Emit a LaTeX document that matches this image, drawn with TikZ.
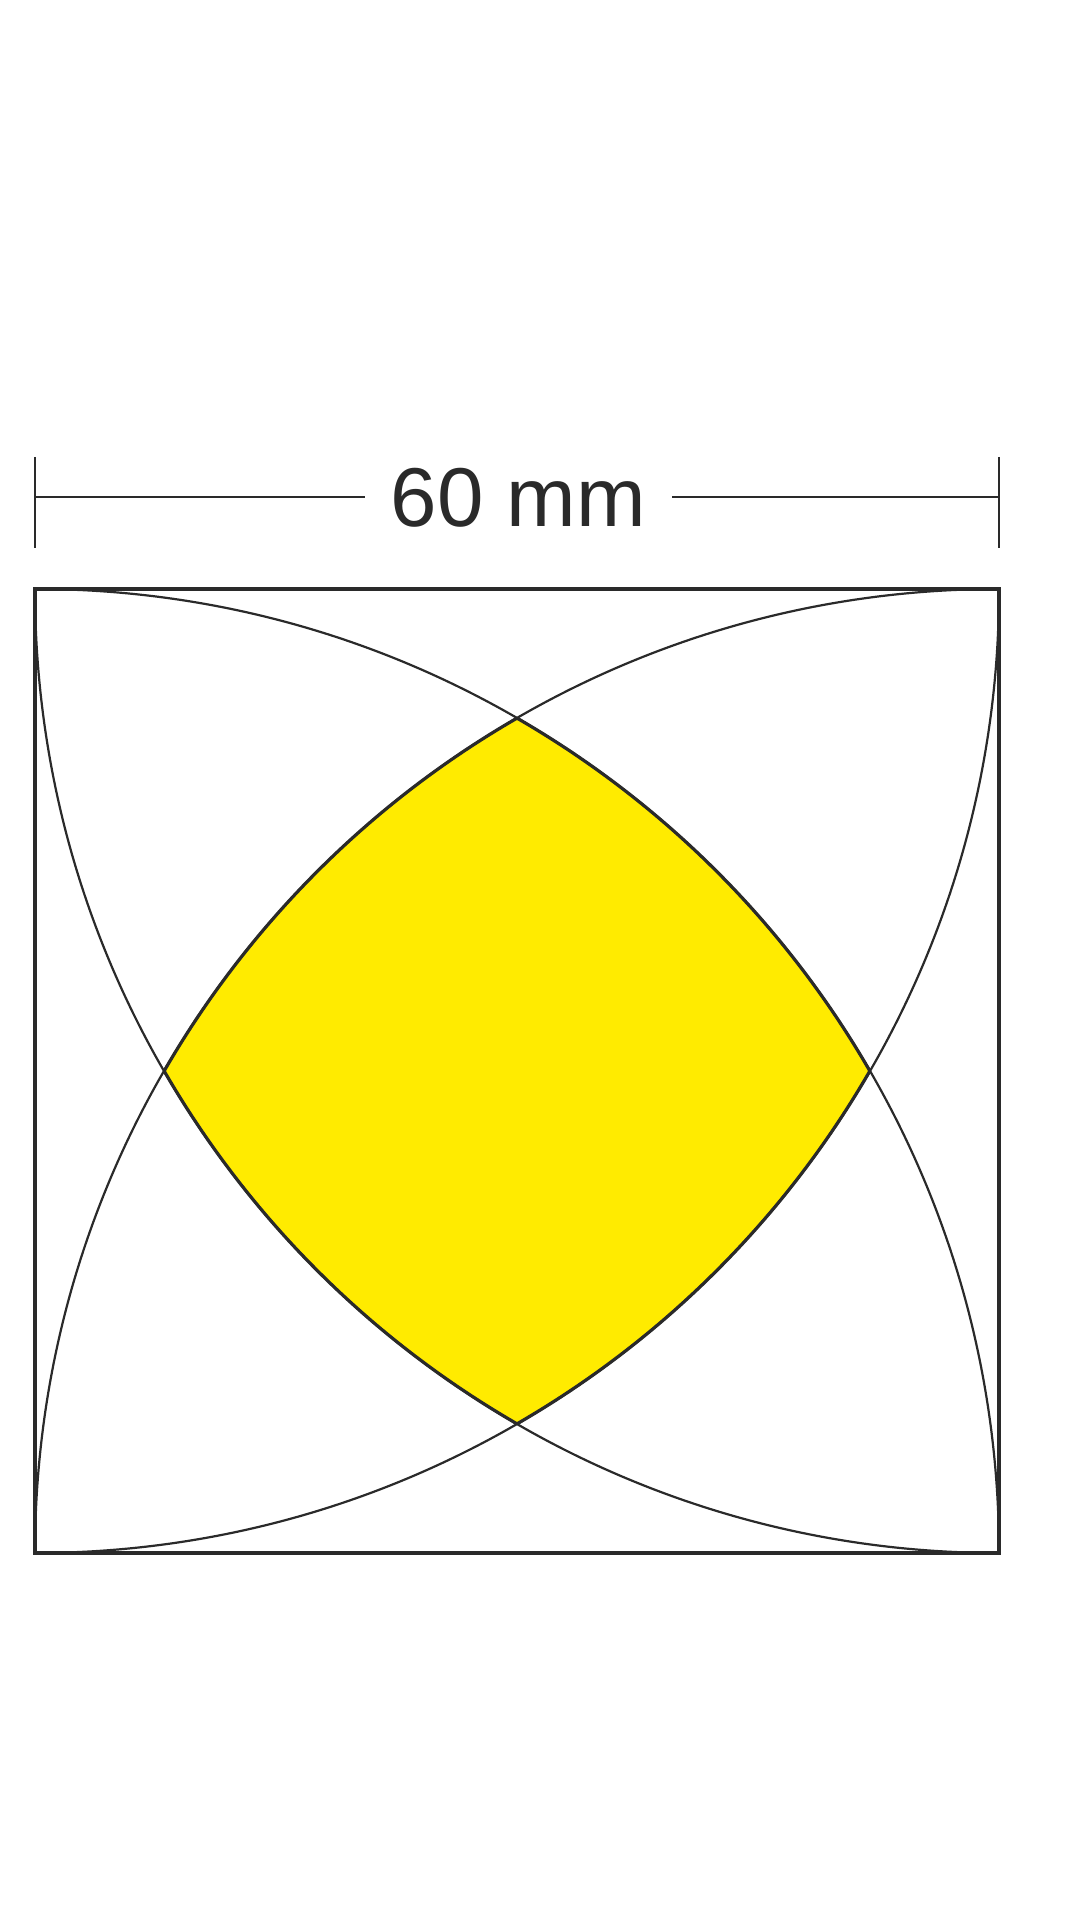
\documentclass[tikz,border=0pt]{standalone}
\usepackage{fontspec}
\setmainfont{Liberation Sans}
\definecolor{ink}{HTML}{2A2A2A}
\definecolor{lemon}{HTML}{FFEB00}
\begin{document}
\begin{tikzpicture}[x=1pt,y=1pt,
  edge/.style={draw=ink,line width=3.2pt},
  arcline/.style={draw=ink,line width=2.2pt},
  lens/.style={fill=lemon,draw=ink,line width=3.2pt,line join=round},
  dimline/.style={draw=ink,line width=2.2pt}]
\useasboundingbox (0,0) rectangle (1080,1920);
\def\s{964}
\coordinate (BL) at (35,367);
\coordinate (BR) at (999,367);
\coordinate (TR) at (999,1331);
\coordinate (TL) at (35,1331);
\coordinate (T) at (517,1201.85);
% yellow region
\path[lens] (T) arc[start angle=60,end angle=30,radius=\s]
  arc[start angle=-30,end angle=-60,radius=\s]
  arc[start angle=240,end angle=210,radius=\s]
  arc[start angle=150,end angle=120,radius=\s] -- cycle;
% quarter circles
\draw[arcline] (TL) arc[start angle=90,end angle=0,radius=\s];
\draw[arcline] (TL) arc[start angle=180,end angle=270,radius=\s];
\draw[arcline] (TR) arc[start angle=0,end angle=-90,radius=\s];
\draw[arcline] (TR) arc[start angle=90,end angle=180,radius=\s];
% square
\draw[edge] (BL) rectangle (TR);
% dimension
\coordinate (LT1) at (35,1463);
\coordinate (LT2) at (35,1372);
\coordinate (RT1) at (999,1463);
\coordinate (RT2) at (999,1372);
\coordinate (DL) at (35,1423);
\coordinate (DLe) at (365,1423);
\coordinate (DR) at (999,1423);
\coordinate (DRs) at (672,1423);
\draw[dimline] (LT1) -- (LT2);
\draw[dimline] (RT1) -- (RT2);
\draw[dimline] (DL) -- (DLe);
\draw[dimline] (DRs) -- (DR);
\node[anchor=base,inner sep=0pt,text=ink,font=\fontsize{83.5}{100}\selectfont] (lbl) at (518.5,1393) {60 mm};
\end{tikzpicture}
\end{document}
